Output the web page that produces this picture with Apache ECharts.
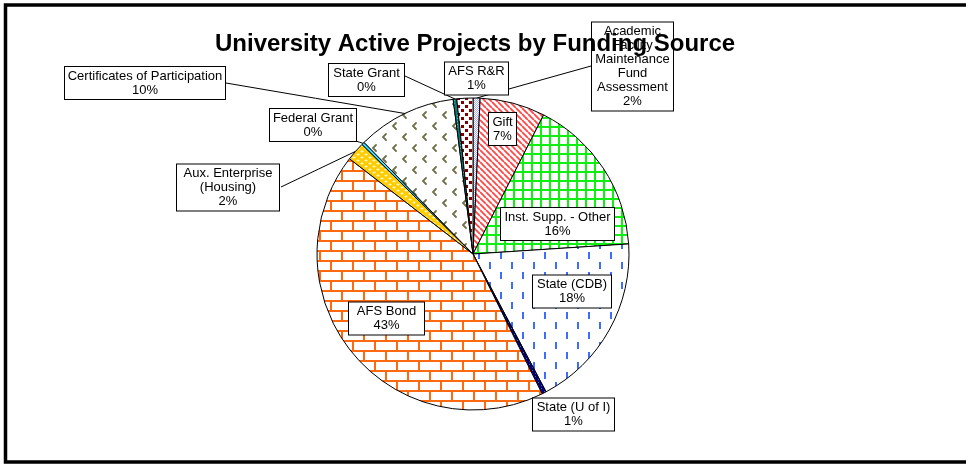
<!DOCTYPE html>
<html><head><meta charset="utf-8">
<script src="https://cdn.jsdelivr.net/npm/echarts@6/dist/echarts.min.js"></script>
<style>html,body{margin:0;padding:0;background:#fff}#c{width:966px;height:464px}</style>
</head><body><div id="c"></div>
<script>
// ---- data ----
const categories = ['Academic Facility Maintenance Fund Assessment','Gift','Inst. Supp. - Other','State (CDB)','State (U of I)','AFS Bond','Aux. Enterprise (Housing)','Federal Grant','Certificates of Participation','State Grant','AFS R&R'];
const labelNames = ['Academic\nFacility\nMaintenance\nFund\nAssessment','Gift','Inst. Supp. - Other','State (CDB)','State (U of I)','AFS Bond','Aux. Enterprise\n(Housing)','Federal Grant','Certificates of Participation','State Grant','AFS R&R'];
const values = [0.73, 6.75, 16.5, 18.28, 0.45, 42.78, 1.94, 0.3, 10.28, 0.37, 1.66];
const labelPercents = [2, 7, 16, 18, 1, 43, 2, 0, 10, 0, 1];

// ---- layout / style config ----
const labelCenters = [[632.5,66.5],[502.5,129],[557.5,224],[572,291.5],[573.5,414.5],[386.5,318.5],[228,187.5],[313,125],[145,83],[366.5,80],[476.5,78.5]];
const labelWidths = [83,29,115,80,83,77,104,88,162,77,65];
const lineAnchors = [[591,66],null,null,null,null,null,[281,187],[356,141],[226,83],[405,76],null];

function pat(w,h,bg,draw){
  const c=document.createElement('canvas'); c.width=w; c.height=h;
  const g=c.getContext('2d'); g.fillStyle=bg; g.fillRect(0,0,w,h); draw(g);
  return {image:c, repeat:'repeat'};
}
const patterns = [
  pat(2,2,'#ffffff',g=>{g.fillStyle='#a8a8ff';g.fillRect(0,0,1,1);g.fillRect(1,1,1,1);}),
  pat(6,6,'#ffffff',g=>{g.strokeStyle='#ff4a4a';g.lineWidth=1.9;g.beginPath();for(let k=-1;k<=1;k++){g.moveTo(k*6,0);g.lineTo(k*6+6,6);}g.stroke();}),
  pat(9,9,'#ffffff',g=>{g.fillStyle='#11ee11';g.fillRect(0,0,9,2);g.fillRect(0,0,2,9);}),
  pat(22,20,'#ffffff',g=>{g.fillStyle='#3d6dff';g.fillRect(5,2,2,7);g.fillRect(16,12,2,7);}),
  pat(3,3,'#000080',g=>{g.fillStyle='#5566bb';g.fillRect(1,1,1,1);}),
  pat(22,20,'#ffffff',g=>{g.fillStyle='#ff6a10';g.fillRect(0,0,22,2);g.fillRect(0,10,22,2);g.fillRect(0,0,2,10);g.fillRect(11,10,2,10);}),
  pat(8,6,'#ffcc00',g=>{g.fillStyle='#fff6cc';g.beginPath();g.ellipse(2,1.5,1.6,1,0,0,Math.PI*2);g.ellipse(6,4.5,1.6,1,0,0,Math.PI*2);g.fill();}),
  pat(2,2,'#33ddff',g=>{}),
  pat(20,22,'#ffffff',g=>{g.strokeStyle='#707048';g.lineWidth=1.8;g.lineCap='round';g.beginPath();g.moveTo(6,2);g.lineTo(3,5);g.lineTo(6,8);g.moveTo(16,13);g.lineTo(13,16);g.lineTo(16,19);g.stroke();}),
  pat(3,3,'#008080',g=>{g.fillStyle='#66bbbb';g.fillRect(1,1,1,1);}),
  pat(8,8,'#ffffff',g=>{g.fillStyle='#800000';g.fillRect(1,1,3,3);g.fillRect(5,5,3,3);})
];

const data = categories.map((name,i)=>({
  name: name,
  value: values[i],
  itemStyle: {color: patterns[i]},
  label: {width: labelWidths[i]-2},
  labelLine: {show: !!lineAnchors[i]}
}));

const chart = echarts.init(document.getElementById('c'), null, {renderer:'canvas'});
chart.setOption({
  animation: false,
  backgroundColor: '#ffffff',
  title: {
    text: 'University Active Projects by Funding Source',
    left: 210, top: 27,
    padding: 5,
    textStyle: {fontFamily:'Liberation Sans, Arial, sans-serif', fontSize: 24, fontWeight:'bold', color:'#000'}
  },
  graphic: [{type:'rect', z:100, shape:{x:5.5,y:5,width:965,height:457}, style:{fill:'none', stroke:'#000', lineWidth:3.5}}],
  series: [{
    type: 'pie',
    center: [473, 254],
    radius: 156,
    startAngle: 90,
    clockwise: true,
    avoidLabelOverlap: false,
    itemStyle: {borderColor:'#000', borderWidth:1},
    label: {
      show: true,
      position: 'outside',
      formatter: p => labelNames[p.dataIndex] + '\n' + labelPercents[p.dataIndex] + '%',
      fontFamily: 'Liberation Sans, Arial, sans-serif',
      fontSize: 13,
      lineHeight: 14,
      color: '#000',
      align: 'center',
      backgroundColor: '#fff',
      borderColor: '#000',
      borderWidth: 1,
      padding: [2, 0]
    },
    labelLine: {show: true, length: 10, length2: 10, lineStyle: {color:'#000', width: 1}},
    labelLayout: function(p){
      const i = p.dataIndex;
      const c = labelCenters[i];
      const res = {x: c[0], y: c[1], align: 'center', verticalAlign: 'middle'};
      const a = lineAnchors[i];
      if (a && p.labelLinePoints) {
        const s = p.labelLinePoints[0];
        res.labelLinePoints = [s, [(s[0]+a[0])/2, (s[1]+a[1])/2], a];
      }
      return res;
    },
    data: data
  }]
});
</script>
</body></html>
